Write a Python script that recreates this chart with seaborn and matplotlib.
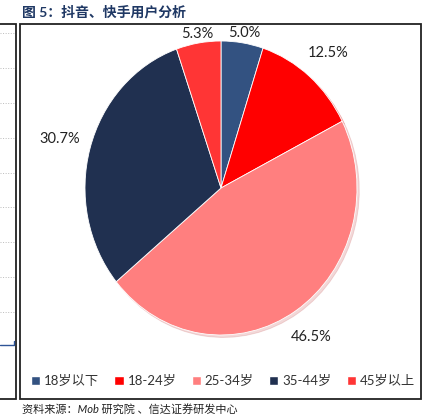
import numpy as np
import matplotlib
matplotlib.use('Agg')
import matplotlib.pyplot as plt
from matplotlib.patches import Rectangle
from matplotlib.lines import Line2D
import seaborn as sns

# 抖音、快手用户年龄分布 (%)
groups = ['18岁以下', '18-24岁', '25-34岁', '35-44岁', '45岁以上']
shares = [5.0, 12.5, 46.5, 30.7, 5.3]
colors = ['#335281', '#FF0000', '#FF7F7F', '#203050', '#FF3535']
label_dist = [1.07, 1.21, 1.21, 1.23, 1.06]

sns.set_theme(style='white')
plt.rcParams['font.family'] = ['Lato', 'Noto Sans CJK SC', 'DejaVu Sans']

W, H = 443, 419
fig = plt.figure(figsize=(W / 100, H / 100), dpi=100)
fig.patch.set_facecolor('white')

# pie axes spans the whole figure, limits place the centre/radius
cx, cy, rx, ry = 221, 188, 136, 147
ax = fig.add_axes([0, 0, 1, 1])
wedges, _ = ax.pie(shares, colors=colors, startangle=90, counterclock=False,
                   wedgeprops=dict(edgecolor='white', linewidth=0.6),
                   shadow=dict(ox=0.012, oy=-0.012, shade=0.2, alpha=0.25))
ax.set_aspect('auto')
ax.set_xlim(-cx / rx, (W - cx) / rx)
ax.set_ylim(-(H - cy) / ry, cy / ry)
ax.axis('off')

for w, v, d in zip(wedges, shares, label_dist):
    ang = np.deg2rad((w.theta1 + w.theta2) / 2)
    ax.text(d * np.cos(ang), d * np.sin(ang), f'{v:.1f}%',
            ha='center', va='center', fontsize=10.5, color='#222222')

# frames
fig.patches.append(Rectangle((20 / W, 1 - 399 / H), 401 / W, 375 / H,
                             transform=fig.transFigure, fill=False,
                             edgecolor='#222222', linewidth=1.3))
fig.patches.append(Rectangle((-5 / W, 1 - 399 / H), 21 / W, 375 / H,
                             transform=fig.transFigure, fill=False,
                             edgecolor='#222222', linewidth=1.3))
for yy in np.linspace(33, 312, 9):
    fig.lines.append(Line2D([0, 14 / W], [1 - yy / H] * 2, transform=fig.transFigure,
                            color='#bbbbbb', linewidth=0.7, linestyle=':'))
fig.lines.append(Line2D([0, 14 / W, 14 / W], [1 - 345 / H, 1 - 345 / H, 1 - 341 / H],
                        transform=fig.transFigure, color='#2F5597', linewidth=1))

fig.text(22 / W, 1 - 12 / H, '图 5：抖音、快手用户分析', ha='left', va='center',
         fontsize=10, fontweight='bold', color='#1F3864')

handles = [Rectangle((0, 0), 1, 1, facecolor=c) for c in colors]
fig.legend(handles, groups, loc='center', bbox_to_anchor=(223 / W, 1 - 381 / H),
           ncol=5, frameon=False, fontsize=9.5, handlelength=0.7, handleheight=0.7,
           handletextpad=0.3, columnspacing=1.15, labelcolor='#333333')

fig.text(22 / W, 1 - 409 / H, '资料来源：Mob 研究院 、信达证券研发中心', ha='left', va='center',
         fontsize=8, style='italic', color='#222222')

fig.savefig('out.png', dpi=100)
